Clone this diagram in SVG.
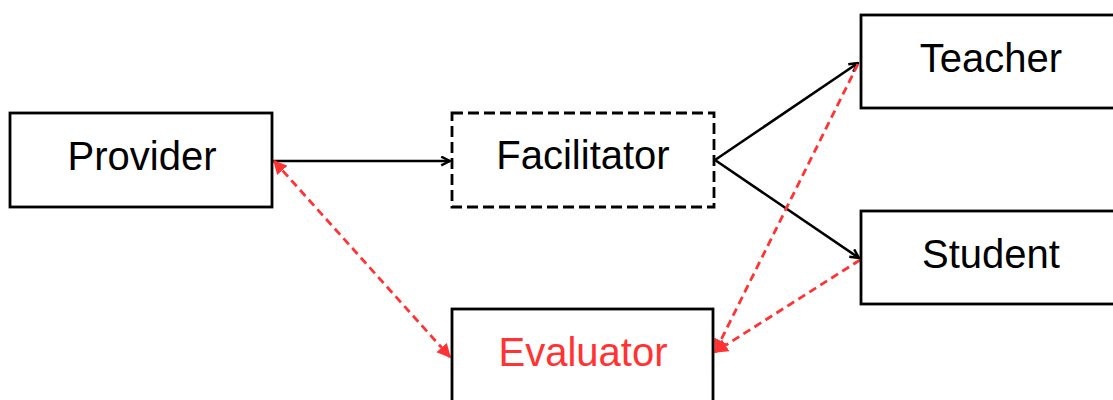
<svg xmlns="http://www.w3.org/2000/svg" width="1113" height="400" viewBox="0 0 1113 400">
<defs>
<style>
.box{fill:none;stroke:#000;stroke-width:2.8}
.dash{stroke-dasharray:11,5}
.lbl{font-family:"Liberation Sans",Arial,sans-serif;font-size:40px;text-anchor:middle;fill:#000}
.red{fill:#ff3333}
.blk{stroke:#000;stroke-width:2.6;fill:none}
.rd{stroke:#ff3333;stroke-width:2.8;fill:none;stroke-dasharray:8,5}
</style>
<marker id="open" viewBox="0 0 10 10" refX="9" refY="5" markerWidth="11" markerHeight="11" markerUnits="userSpaceOnUse" orient="auto">
<path d="M1,1 L9,5 L1,9" fill="none" stroke="#000" stroke-width="2.2"/>
</marker>
<marker id="redtri" viewBox="0 0 10 10" refX="9" refY="5" markerWidth="14" markerHeight="14" markerUnits="userSpaceOnUse" orient="auto-start-reverse">
<path d="M0,0 L10,5 L0,10 z" fill="#ff3333"/>
</marker>
</defs>
<g id="connectors">
<line class="blk" x1="273" y1="161" x2="450" y2="161" marker-end="url(#open)"/>
<line class="blk" x1="715" y1="160" x2="858" y2="63" marker-end="url(#open)"/>
<line class="blk" x1="715" y1="160" x2="859" y2="258" marker-end="url(#open)"/>
<line class="rd" x1="274" y1="161" x2="450" y2="357" marker-start="url(#redtri)" marker-end="url(#redtri)"/>
<line class="rd" x1="858" y1="64" x2="715" y2="352" marker-end="url(#redtri)"/>
<line class="rd" x1="860" y1="260" x2="715" y2="352" marker-end="url(#redtri)"/>
</g>
<g id="provider">
<rect class="box" x="10" y="113" width="262" height="94"/>
<text class="lbl" x="142" y="170">Provider</text>
</g>
<g id="facilitator">
<rect class="box dash" x="452" y="113" width="262" height="94"/>
<text class="lbl" x="583" y="169">Facilitator</text>
</g>
<g id="teacher">
<rect class="box" x="861" y="15" width="270" height="93"/>
<text class="lbl" x="991" y="72">Teacher</text>
</g>
<g id="student">
<rect class="box" x="861" y="211" width="270" height="93"/>
<text class="lbl" x="991" y="268">Student</text>
</g>
<g id="evaluator">
<rect class="box" x="452" y="309" width="261" height="110"/>
<text class="lbl red" x="583" y="366">Evaluator</text>
</g>
</svg>
